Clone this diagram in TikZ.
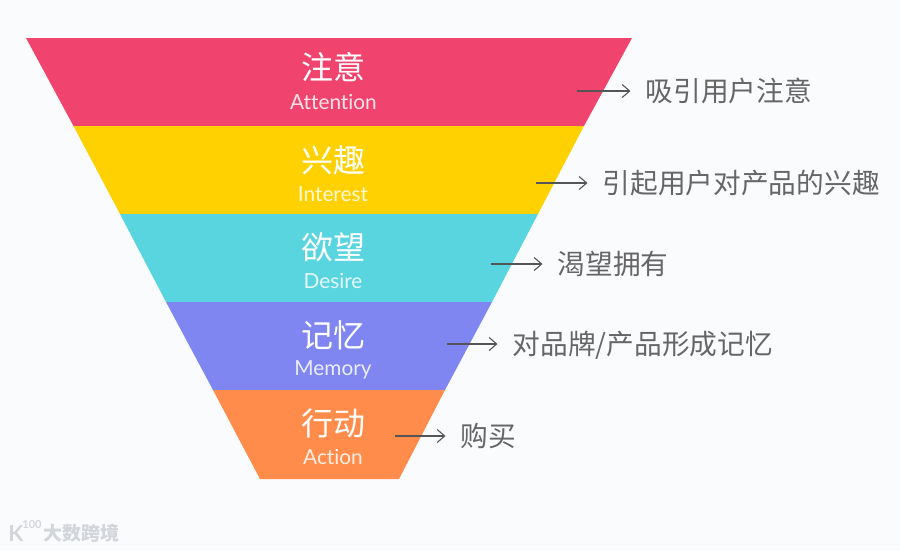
\documentclass[tikz,border=0pt]{standalone}
\usepackage{fontspec}
\setmainfont[RawFeature={-liga}]{Lato}
\newfontfamily\cjk{Noto Sans CJK SC}
\definecolor{bgc}{HTML}{FAFBFD}
\definecolor{cA}{HTML}{F0446E}
\definecolor{cB}{HTML}{FFD100}
\definecolor{cC}{HTML}{58D5DE}
\definecolor{cD}{HTML}{7F86F2}
\definecolor{cE}{HTML}{FF8C4A}
\definecolor{txt}{HTML}{666666}
\definecolor{arr}{HTML}{555555}
\definecolor{wm}{HTML}{D2D5D9}
\usetikzlibrary{arrows.meta}
\tikzset{
  title/.style={text=white,font=\cjk\fontsize{32}{32}\selectfont,inner sep=0pt},
  sub/.style={text=white,opacity=.85,font=\fontsize{20.8}{21}\selectfont,inner sep=0pt},
  lab/.style={text=txt,font=\cjk\fontsize{27.7}{28}\selectfont,anchor=west,inner ysep=0pt,inner xsep=15pt,text height=22pt,text depth=2pt},
  conn/.style={draw=arr,line width=1.1pt,-{Straight Barb[length=7.5pt,width=13pt,line width=1.1pt]}},
}
\begin{document}
\begin{tikzpicture}[x=1pt,y=-1pt]
\useasboundingbox (0,0) rectangle (900,550);
\fill[bgc] (0,0) rectangle (900,550);
\fill[cA] (26,38) -- (632,38) -- (584,126) -- (73.5,126) -- cycle;
\fill[cB] (73.5,126) -- (584,126) -- (538,214) -- (120,214) -- cycle;
\fill[cC] (120,214) -- (538,214) -- (492,302) -- (166,302) -- cycle;
\fill[cD] (166,302) -- (492,302) -- (445,390) -- (213,390) -- cycle;
\fill[cE] (213,390) -- (445,390) -- (399,479) -- (260,479) -- cycle;
\node[title] (t1) at (333,67) {注意};
\node[sub] (s1) at (333.5,102) {Attention};
\node[title] (t2) at (333,160) {兴趣};
\node[sub] (s2) at (333,194) {Interest};
\node[title] (t3) at (333,247) {欲望};
\node[sub] (s3) at (333,281) {Desire};
\node[title] (t4) at (333,335) {记忆};
\node[sub] (s4) at (333,370) {Memory};
\node[title] (t5) at (333,423) {行动};
\node[sub] (s5) at (333,457) {Action};
\coordinate (c1) at (577,91);
\coordinate (c2) at (536,183);
\coordinate (c3) at (491,264);
\coordinate (c4) at (447,344);
\coordinate (c5) at (395,436);
\node[lab] (l1) at (630.5,91) {吸引用户注意};
\node[lab] (l2) at (587.5,183) {引起用户对产品的兴趣};
\node[lab] (l3) at (542.5,264) {渴望拥有};
\node[lab] (l4) at (497.5,344) {对品牌/产品形成记忆};
\node[lab] (l5) at (445.5,436) {购买};
\draw[conn] (c1) -- (l1.west);
\draw[conn] (c2) -- (l2.west);
\draw[conn] (c3) -- (l3.west);
\draw[conn] (c4) -- (l4.west);
\draw[conn] (c5) -- (l5.west);
\node[text=wm,font=\fontsize{22}{22}\selectfont\bfseries,inner sep=0pt] (k) at (16,534) {K};
\node[text=wm,font=\fontsize{11}{11}\selectfont\bfseries,inner sep=0pt] (h) at (32,525) {100};
\node[text=wm,font=\cjk\fontsize{19}{19}\selectfont\bfseries,inner sep=0pt] (w) at (81,533) {大数跨境};
\end{tikzpicture}
\end{document}
